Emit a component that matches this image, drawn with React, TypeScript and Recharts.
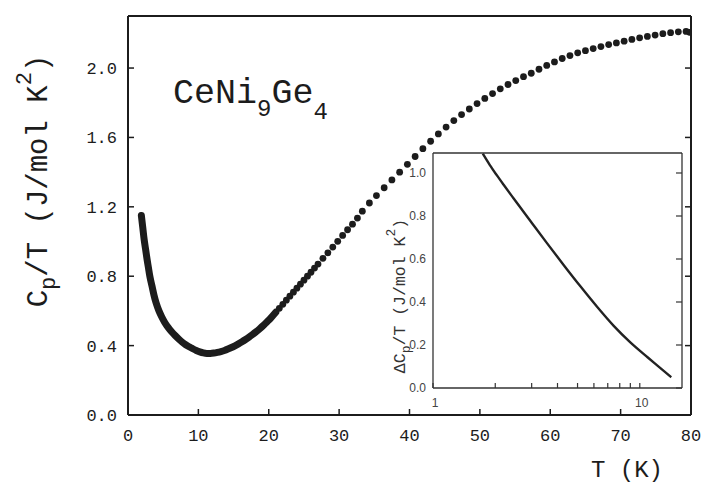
import React from 'react';
import { ComposedChart, Line, Scatter, XAxis, YAxis } from 'recharts';

// main panel: Cp/T vs T, dense low-T part (drawn as a thick band) and dotted high-T part
const lowT = [1.9, 2.1, 2.3, 2.5, 2.7, 2.9, 3.1, 3.4, 3.7, 4.0, 4.4, 4.8, 5.2, 5.7, 6.2, 6.7, 7.2, 7.7, 8.2, 8.7, 9.2, 9.7, 10.2, 10.7, 11.2, 11.7, 12.2, 12.7, 13.2, 13.7, 14.2, 14.7, 15.2, 15.7, 16.2, 16.7, 17.2, 17.7, 18.2, 18.7, 19.2, 19.7, 20.2, 21.0];
const lowCp = [1.15, 1.08, 1.01, 0.955, 0.9, 0.85, 0.8, 0.745, 0.69, 0.645, 0.6, 0.565, 0.535, 0.505, 0.48, 0.458, 0.438, 0.42, 0.405, 0.393, 0.382, 0.372, 0.364, 0.358, 0.355, 0.355, 0.357, 0.361, 0.366, 0.372, 0.38, 0.389, 0.399, 0.41, 0.422, 0.435, 0.449, 0.464, 0.48, 0.497, 0.515, 0.535, 0.555, 0.592];

const highT = [21.5, 22.0, 22.5, 23.0, 23.5, 24.0, 24.5, 25.0, 25.5, 26.0, 26.5, 27.0, 27.7, 28.4, 29.1, 29.8, 30.5, 31.2, 31.9, 32.6, 33.3, 34.3, 35.3, 36.4, 37.5, 38.6, 39.7, 40.8, 41.9, 43.0, 44.1, 45.2, 46.3, 47.4, 48.5, 49.6, 50.7, 51.8, 52.9, 54.0, 55.1, 56.2, 57.3, 58.4, 59.5, 60.6, 61.7, 62.8, 63.9, 65.0, 66.1, 67.2, 68.3, 69.4, 70.5, 71.6, 72.7, 73.8, 74.9, 76.0, 77.1, 78.2, 79.3, 79.8];
const highCp = [0.615, 0.638, 0.662, 0.685, 0.708, 0.731, 0.754, 0.777, 0.8, 0.823, 0.847, 0.87, 0.903, 0.935, 0.968, 1.001, 1.035, 1.068, 1.1, 1.135, 1.175, 1.222, 1.265, 1.31, 1.355, 1.4, 1.445, 1.49, 1.535, 1.578, 1.62, 1.66, 1.697, 1.732, 1.764, 1.795, 1.825, 1.853, 1.88, 1.905, 1.928, 1.95, 1.97, 1.993, 2.015, 2.035, 2.055, 2.072, 2.088, 2.1, 2.112, 2.124, 2.135, 2.145, 2.155, 2.165, 2.174, 2.182, 2.19, 2.198, 2.204, 2.209, 2.211, 2.206];

// inset: dCp/T vs T on log axis
const insetT = [1.74, 1.88, 2.03, 2.2, 2.44, 2.7, 3.0, 3.55, 4.3, 5.15, 6.2, 7.48, 9.0, 10.9, 12.5, 14.2];
const insetDCp = [1.09, 1.038, 0.991, 0.944, 0.885, 0.828, 0.769, 0.675, 0.57, 0.474, 0.379, 0.289, 0.212, 0.143, 0.095, 0.05];

const mainXTicks = [0, 10, 20, 30, 40, 50, 60, 70, 80];
const mainYTicks = [0, 0.4, 0.8, 1.2, 1.6, 2.0];
const insetXTicks = [1, 2, 3, 4, 5, 6, 7, 8, 9, 10];
const insetYTicks = [0, 0.2, 0.4, 0.6, 0.8, 1.0];

const INK = '#1c1c1c';
const MONO = '"Liberation Mono", monospace';
const SANS = '"Liberation Sans", Arial, sans-serif';

const lowData = lowT.map((t, i) => ({ t, cp: lowCp[i] }));
const highData = highT.map((t, i) => ({ t, cp: highCp[i] }));
const insetData = insetT.map((t, i) => ({ t, d: insetDCp[i] }));

// ticks point inwards on all four sides
const BottomTick = ({ x, y, payload }: any) => (
  <g>
    <line x1={x} y1={y} x2={x} y2={y - 6} stroke={INK} strokeWidth={1.5} />
    <text x={x} y={y + 26} textAnchor="middle" fontFamily={MONO} fontSize={17} fill={INK}>{payload.value}</text>
  </g>
);
const TopTick = ({ x, y }: any) => <line x1={x} y1={y} x2={x} y2={y + 6} stroke={INK} strokeWidth={1.5} />;
const LeftTick = ({ x, y, payload }: any) => (
  <g>
    <line x1={x} y1={y} x2={x + 6} y2={y} stroke={INK} strokeWidth={1.5} />
    <text x={x - 11} y={y + 6} textAnchor="end" fontFamily={MONO} fontSize={17} fill={INK}>{payload.value.toFixed(1)}</text>
  </g>
);
const RightTick = ({ x, y }: any) => <line x1={x} y1={y} x2={x - 6} y2={y} stroke={INK} strokeWidth={1.5} />;

const InsetBottomTick = ({ x, y, payload }: any) => (
  <g>
    <line x1={x} y1={y} x2={x} y2={y - 5} stroke="#333" strokeWidth={1.2} />
    {(payload.value === 1 || payload.value === 10) && (
      <text x={x + 2} y={y + 19} textAnchor="middle" fontFamily={SANS} fontSize={12} fill="#444">{payload.value}</text>
    )}
  </g>
);
const InsetTopTick = ({ x, y }: any) => <line x1={x} y1={y} x2={x} y2={y + 5} stroke="#333" strokeWidth={1.2} />;
const InsetLeftTick = ({ x, y, payload }: any) => (
  <text x={x - 7} y={y + 4} textAnchor="end" fontFamily={SANS} fontSize={12} fill="#444">{payload.value.toFixed(1)}</text>
);
const InsetRightTick = ({ x, y }: any) => <line x1={x} y1={y} x2={x - 6} y2={y} stroke="#333" strokeWidth={1.2} />;

const Dot = ({ cx, cy }: any) => <circle cx={cx} cy={cy} r={3.4} fill={INK} />;

const App = () => {
  return (
    <div style={{ position: 'absolute', left: 0, top: 0, width: 707, height: 486, background: '#fff' }}>
      <ComposedChart width={707} height={486} margin={{ top: 15, right: 15, bottom: 70, left: 127 }} style={{ position: 'absolute', left: 0, top: 0 }}>
        <XAxis xAxisId="b" dataKey="t" type="number" domain={[0, 80]} ticks={mainXTicks} interval={0} height={1}
          tickSize={0} tickMargin={0} tickLine={false} tick={<BottomTick />} axisLine={{ stroke: INK, strokeWidth: 2 }} allowDataOverflow />
        <XAxis xAxisId="t" orientation="top" type="number" domain={[0, 80]} ticks={mainXTicks} interval={0} height={1}
          tickSize={0} tickMargin={0} tickLine={false} tick={<TopTick />} axisLine={{ stroke: INK, strokeWidth: 2 }} allowDataOverflow />
        <YAxis yAxisId="l" dataKey="cp" type="number" domain={[0, 2.3]} ticks={mainYTicks} interval={0} width={1}
          tickSize={0} tickMargin={0} tickLine={false} tick={<LeftTick />} axisLine={{ stroke: INK, strokeWidth: 2 }} allowDataOverflow />
        <YAxis yAxisId="r" orientation="right" type="number" domain={[0, 2.3]} ticks={mainYTicks} interval={0} width={1}
          tickSize={0} tickMargin={0} tickLine={false} tick={<RightTick />} axisLine={{ stroke: INK, strokeWidth: 2 }} allowDataOverflow />
        <Line xAxisId="b" yAxisId="l" data={lowData} dataKey="cp" type="monotone" stroke={INK} strokeWidth={7}
          strokeLinecap="round" dot={false} activeDot={false} isAnimationActive={false} />
        <Scatter xAxisId="b" yAxisId="l" data={highData} dataKey="cp" shape={<Dot />} isAnimationActive={false} />
      </ComposedChart>

      <ComposedChart width={320} height={300} margin={{ top: 12, right: 17, bottom: 51, left: 52 }} style={{ position: 'absolute', left: 380, top: 140 }}>
        <XAxis xAxisId="b" dataKey="t" type="number" scale="log" domain={[1, 16]} ticks={insetXTicks} interval={0} height={1}
          tickSize={0} tickMargin={0} tickLine={false} tick={<InsetBottomTick />} axisLine={{ stroke: '#333', strokeWidth: 1.3 }} allowDataOverflow />
        <XAxis xAxisId="t" orientation="top" type="number" scale="log" domain={[1, 16]} ticks={[10]} interval={0} height={1}
          tickSize={0} tickMargin={0} tickLine={false} tick={<InsetTopTick />} axisLine={{ stroke: '#333', strokeWidth: 1.3 }} allowDataOverflow />
        <YAxis yAxisId="l" dataKey="d" type="number" domain={[0, 1.093]} ticks={insetYTicks} interval={0} width={1}
          tickSize={0} tickMargin={0} tickLine={false} tick={<InsetLeftTick />} axisLine={{ stroke: '#333', strokeWidth: 1.3 }} allowDataOverflow />
        <YAxis yAxisId="r" orientation="right" type="number" domain={[0, 1.093]} ticks={insetYTicks} interval={0} width={1}
          tickSize={0} tickMargin={0} tickLine={false} tick={<InsetRightTick />} axisLine={{ stroke: '#333', strokeWidth: 1.3 }} allowDataOverflow />
        <Line xAxisId="b" yAxisId="l" data={insetData} dataKey="d" type="monotone" stroke="#222" strokeWidth={2.4}
          dot={false} activeDot={false} isAnimationActive={false} />
      </ComposedChart>

      {/* titles and compound label */}
      <svg width={707} height={486} style={{ position: 'absolute', left: 0, top: 0, pointerEvents: 'none' }}>
        <text x={173} y={103} fontFamily={MONO} fontSize={35} fill={INK}>
          CeNi<tspan dy={13} fontSize={24}>9</tspan><tspan dy={-13}>Ge</tspan><tspan dy={16} fontSize={24}>4</tspan>
        </text>
        <text transform="translate(47,181) rotate(-90)" textAnchor="middle" fontFamily={MONO} fontSize={29} fill={INK}>
          C<tspan dy={8} fontSize={22}>p</tspan><tspan dy={-8}>/T (J/mol K</tspan><tspan dy={-16} fontSize={22}>2</tspan><tspan dy={16}>)</tspan>
        </text>
        <text x={591} y={477} fontFamily={MONO} fontSize={24} fill={INK}>T (K)</text>
        <text transform="translate(405,296) rotate(-90)" textAnchor="middle" fontFamily={MONO} fontSize={16.5} fill="#333">
          ΔC<tspan dy={5} fontSize={13}>p</tspan><tspan dy={-5}>/T (J/mol K</tspan><tspan dy={-10} fontSize={13}>2</tspan><tspan dy={10}>)</tspan>
        </text>
      </svg>
    </div>
  );
};

export default App;
